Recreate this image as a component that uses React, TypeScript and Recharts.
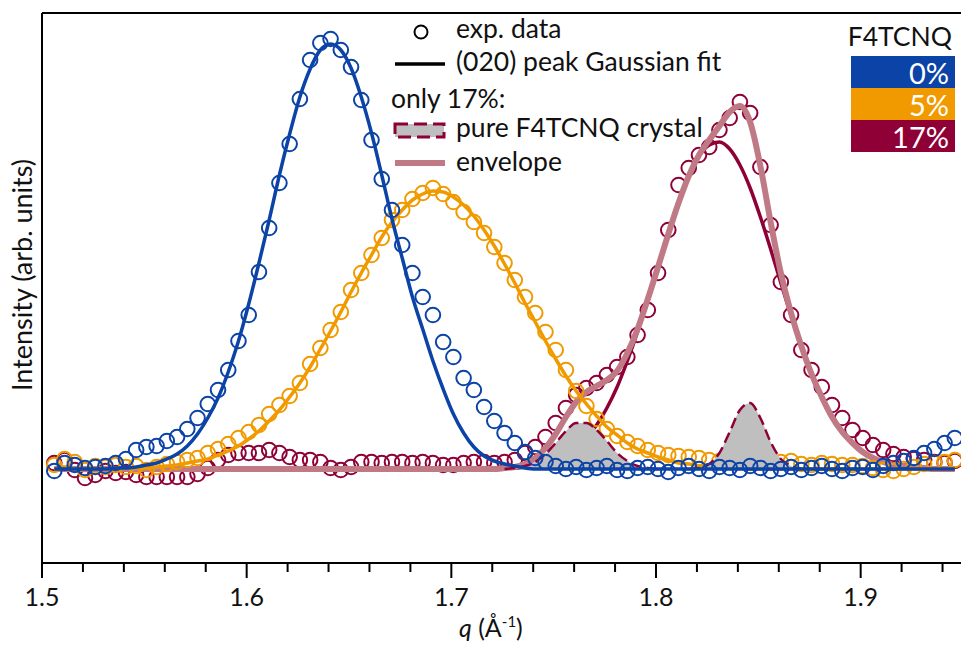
import {
    ComposedChart,
    XAxis,
    YAxis,
    Scatter,
    Line,
    Area,
    ReferenceLine,
} from 'recharts';

// q grid of the measurement (Å^-1)
const qGrid = [
    1.506, 1.511, 1.516, 1.521, 1.526, 1.531, 1.536, 1.541, 1.546, 1.551,
    1.556, 1.561, 1.566, 1.571, 1.576, 1.581, 1.586, 1.591, 1.596, 1.601,
    1.606, 1.611, 1.616, 1.621, 1.626, 1.631, 1.636, 1.641, 1.646, 1.651,
    1.656, 1.661, 1.666, 1.671, 1.676, 1.681, 1.686, 1.691, 1.696, 1.701,
    1.706, 1.711, 1.716, 1.721, 1.726, 1.731, 1.736, 1.741, 1.746, 1.751,
    1.756, 1.761, 1.766, 1.771, 1.776, 1.781, 1.786, 1.791, 1.796, 1.801,
    1.806, 1.811, 1.816, 1.821, 1.826, 1.831, 1.836, 1.841, 1.846, 1.851,
    1.856, 1.861, 1.866, 1.871, 1.876, 1.881, 1.886, 1.891, 1.896, 1.901,
    1.906, 1.911, 1.916, 1.921, 1.926, 1.931, 1.936, 1.941, 1.946,
];

// 0% F4TCNQ
const blueExp = [
    -2, 6, 4, 1, 2, 3, 6, 10, 19, 22,
    23, 28, 32, 40, 51, 65, 79, 99, 128, 154,
    197, 241, 286, 325, 370, 409, 426, 430, 419, 402,
    369, 329, 290, 259, 224, 196, 172, 154, 127, 112,
    91, 79, 62, 48, 36, 26, 17, 11, 7, 3,
    0, 2, -1, 1, 3, -1, -2, 1, 2, 0,
    -3, 1, 3, 0, -2, 2, 1, -1, 3, 1,
    -2, 0, 2, -1, 1, 3, 0, -2, 1, 2,
    -1, 3, 6, 8, 11, 16, 20, 26, 31,
];
const blueFit = [
    0, 0, 0, 0, 0, 0, 1, 1, 2, 4,
    6, 10, 15, 23, 35, 51, 71, 97, 128, 165,
    206, 249, 294, 335, 372, 400, 419, 425, 419, 401,
    372, 336, 294, 250, 211, 172, 140, 108, 80, 55,
    36, 22, 13, 8, 5, 3, 1, 0, 0, 0,
    0, 0, 0, 0, 0, 0, 0, 0, 0, 0,
    0, 0, 0, 0, 0, 0, 0, 0, 0, 0,
    0, 0, 0, 0, 0, 0, 0, 0, 0, 0,
    0, 0, 0, 0, 0, 0, 0, 0, 0,
];

// 5% F4TCNQ
const orangeExp = [
    4, 10, 7, -1, 3, 2, 4, 2, 3, -1,
    2, 5, 7, 9, 11, 16, 20, 25, 31, 37,
    44, 55, 64, 73, 86, 105, 121, 139, 157, 179,
    196, 214, 231, 249, 259, 270, 276, 281, 275, 267,
    257, 247, 236, 222, 206, 189, 172, 156, 137, 119,
    99, 78, 63, 50, 40, 33, 27, 23, 19, 16,
    14, 13, 12, 11, 9, 8, 7, 7, 6, 7,
    6, 7, 8, 5, 4, 6, 5, 4, 4, 3,
    1, -1, -2, 0, 2, 5, 6, 7, 9,
];
const orangeFit = [
    0, 0, 0, 0, 0, 0, 0, 1, 1, 1,
    2, 3, 4, 6, 8, 10, 14, 18, 23, 30,
    38, 48, 59, 72, 86, 102, 120, 138, 157, 177,
    196, 214, 232, 247, 259, 269, 275, 278, 277, 272,
    264, 253, 239, 223, 205, 186, 166, 147, 128, 110,
    93, 78, 65, 53, 42, 34, 26, 20, 16, 12,
    9, 6, 5, 3, 2, 2, 1, 1, 0, 0,
    0, 0, 0, 0, 0, 0, 0, 0, 0, 0,
    0, 0, 0, 0, 0, 0, 0, 0, 0,
];

// 17% F4TCNQ
const redExp = [
    6, 9, -1, -9, -6, -2, -4, -3, -6, -8,
    -8, -8, -8, -8, -5, 1, 9, 14, 16, 16,
    16, 19, 16, 12, 9, 9, 7, 1, -1, 2,
    7, 7, 6, 7, 7, 6, 7, 6, 4, 4,
    6, 7, 7, 6, 7, 9, 16, 22, 32, 46,
    61, 74, 81, 86, 94, 102, 112, 134, 159, 196,
    239, 284, 301, 314, 322, 339, 351, 367, 356, 302,
    244, 187, 154, 119, 99, 82, 64, 51, 39, 31,
    24, 19, 15, 12, 10, 9, 7, 6, 8,
];
const redFit = [
    0, 0, 0, 0, 0, 0, 0, 0, 0, 0,
    0, 0, 0, 0, 0, 0, 0, 0, 0, 0,
    0, 0, 0, 0, 0, 0, 0, 0, 0, 0,
    0, 0, 0, 0, 0, 0, 0, 0, 0, 0,
    0, 0, 0, 0, 1, 1, 2, 3, 6, 9,
    14, 21, 31, 44, 61, 82, 108, 137, 169, 202,
    235, 266, 293, 313, 324, 327, 320, 304, 281, 252,
    220, 186, 153, 122, 95, 72, 52, 37, 26, 17,
    11, 7, 4, 3, 2, 1, 0, 0, 0,
];
const envelope = [
    0, 0, 0, 0, 0, 0, 0, 0, 0, 0,
    0, 0, 0, 0, 0, 0, 0, 0, 0, 0,
    0, 0, 0, 0, 0, 0, 0, 0, 0, 0,
    0, 0, 0, 0, 0, 0, 0, 0, 0, 0,
    0, 0, 0, 0, 1, 2, 5, 11, 21, 35,
    52, 67, 77, 83, 89, 98, 116, 140, 170, 202,
    235, 266, 293, 314, 329, 343, 357, 363, 347, 303,
    247, 196, 156, 123, 95, 72, 52, 37, 26, 17,
    11, 7, 4, 3, 2, 1, 0, 0, 0,
];

// pure F4TCNQ crystal peaks
const crystal1Q = [1.726, 1.731, 1.736, 1.741, 1.746, 1.751, 1.756, 1.761, 1.766, 1.771, 1.776, 1.781, 1.786, 1.791, 1.796, 1.801];
const crystal1 = [0, 1, 3, 7, 15, 26, 38, 46, 46, 39, 28, 16, 8, 3, 1, 0];
const crystal2Q = [1.816, 1.821, 1.826, 1.831, 1.836, 1.841, 1.846, 1.851, 1.856, 1.861, 1.866, 1.871];
const crystal2 = [0, 1, 5, 16, 37, 59, 66, 51, 27, 10, 3, 0];

const qTicks = [
    1.5, 1.52, 1.54, 1.56, 1.58, 1.6, 1.62, 1.64, 1.66, 1.68,
    1.7, 1.72, 1.74, 1.76, 1.78, 1.8, 1.82, 1.84, 1.86, 1.88,
    1.9, 1.92, 1.94,
];
const concentrations = ['0%', '5%', '17%'];

const BLUE = '#0b43a6';
const ORANGE = '#f19a00';
const RED = '#8e0036';
const ENVELOPE = '#c07a86';
const GREY = '#bfbfbf';
const FONT = 'Lato, sans-serif';

const toPoints = (qs: number[], vs: number[]) => qs.map((q, i) => ({ q, v: vs[i] }));

const ring = (color: string) => (p: any) => (
    <circle cx={p.cx} cy={p.cy} r={7.3} fill="none" stroke={color} strokeWidth={2} />
);

const QTick = (props: any) => {
    const { x, y, payload } = props;
    const val = payload.value as number;
    const major = Math.abs(val * 10 - Math.round(val * 10)) < 1e-6;
    return (
        <g>
            <line x1={x} x2={x} y1={y} y2={y + (major ? 15 : 9)} stroke="#000" strokeWidth={2} />
            {major && (
                <text x={x} y={y + 43} textAnchor="middle" fontSize={25} fontFamily={FONT} fill="#111">
                    {val.toFixed(1)}
                </text>
            )}
        </g>
    );
};

export default function App() {
    const boxColors = [BLUE, ORANGE, RED];
    return (
        <div style={{ position: 'absolute', left: 0, top: 0, width: 961, height: 646, overflow: 'hidden', background: '#fff' }}>
            <ComposedChart width={963} height={646} margin={{ top: 13, right: 0, bottom: 0, left: 0 }}>
                <XAxis
                    dataKey="q"
                    type="number"
                    domain={[1.5, 1.95]}
                    allowDataOverflow
                    ticks={qTicks}
                    interval={0}
                    tick={<QTick />}
                    tickLine={false}
                    tickSize={0}
                    tickMargin={0}
                    height={83}
                    axisLine={{ stroke: '#000', strokeWidth: 2 }}
                />
                <YAxis
                    type="number"
                    domain={[-94, 456]}
                    allowDataOverflow
                    tick={false}
                    tickLine={false}
                    width={42}
                    axisLine={{ stroke: '#000', strokeWidth: 2 }}
                />
                <ReferenceLine y={456} stroke="#000" strokeWidth={2} />
                <Scatter data={toPoints(qGrid, redExp)} dataKey="v" shape={ring(RED)} isAnimationActive={false} zIndex={110} />
                <Line data={toPoints(qGrid, redFit)} dataKey="v" type="monotone" stroke={RED} strokeWidth={3.5}
                    dot={false} isAnimationActive={false} zIndex={120} />
                <Line data={toPoints(qGrid, envelope)} dataKey="v" type="monotone" stroke={ENVELOPE} strokeWidth={6}
                    dot={false} isAnimationActive={false} zIndex={130} />
                <Scatter data={toPoints(qGrid, orangeExp)} dataKey="v" shape={ring(ORANGE)} isAnimationActive={false} zIndex={140} />
                <Line data={toPoints(qGrid, orangeFit)} dataKey="v" type="monotone" stroke={ORANGE} strokeWidth={3.5}
                    dot={false} isAnimationActive={false} zIndex={150} />
                <Area data={toPoints(crystal1Q, crystal1)} dataKey="v" type="monotone" baseValue={0}
                    fill={GREY} fillOpacity={1} stroke={RED} strokeWidth={2.5} strokeDasharray="11 5"
                    isAnimationActive={false} zIndex={155} />
                <Area data={toPoints(crystal2Q, crystal2)} dataKey="v" type="monotone" baseValue={0}
                    fill={GREY} fillOpacity={1} stroke={RED} strokeWidth={2.5} strokeDasharray="11 5"
                    isAnimationActive={false} zIndex={155} />
                <Scatter data={toPoints(qGrid, blueExp)} dataKey="v" shape={ring(BLUE)} isAnimationActive={false} zIndex={160} />
                <Line data={toPoints(qGrid, blueFit)} dataKey="v" type="monotone" stroke={BLUE} strokeWidth={3.5}
                    dot={false} isAnimationActive={false} zIndex={170} />
            </ComposedChart>

            <svg width={961} height={646} style={{ position: 'absolute', left: 0, top: 0, pointerEvents: 'none' }}
                fontFamily={FONT} fill="#111">
                {/* axis titles */}
                <text transform="translate(32,275) rotate(-90)" textAnchor="middle" fontSize={27}>
                    Intensity (arb. units)
                </text>
                <text x={459} y={637} fontSize={25}>
                    <tspan fontStyle="italic">q</tspan> (Å<tspan dy={-10} fontSize={15}>-1</tspan>
                    <tspan dy={10}>)</tspan>
                </text>

                {/* legend */}
                <circle cx={421} cy={32} r={6.5} fill="none" stroke="#000" strokeWidth={2} />
                <text x={456} y={38} fontSize={26.5}>exp. data</text>
                <line x1={395} x2={445} y1={64} y2={64} stroke="#000" strokeWidth={3.5} />
                <text x={456} y={71} fontSize={26.5}>(020) peak Gaussian fit</text>
                <text x={391} y={108} fontSize={26.5}>only 17%:</text>
                <rect x={395} y={124} width={49} height={13} fill={GREY} stroke={RED} strokeWidth={3} strokeDasharray="13 6" />
                <text x={456} y={137} fontSize={26.5}>pure F4TCNQ crystal</text>
                <line x1={395} x2={445} y1={163} y2={163} stroke={ENVELOPE} strokeWidth={6} />
                <text x={456} y={171} fontSize={26.5}>envelope</text>

                {/* concentration key */}
                <text x={952} y={46} textAnchor="end" fontSize={26.5}>F4TCNQ</text>
                {concentrations.map((c, i) => (
                    <g key={c}>
                        <rect x={851} y={56 + i * 32} width={104} height={32} fill={boxColors[i]} />
                        <text x={949} y={84 + i * 32} textAnchor="end" fontSize={29} fill="#fff">{c}</text>
                    </g>
                ))}
            </svg>
        </div>
    );
}
